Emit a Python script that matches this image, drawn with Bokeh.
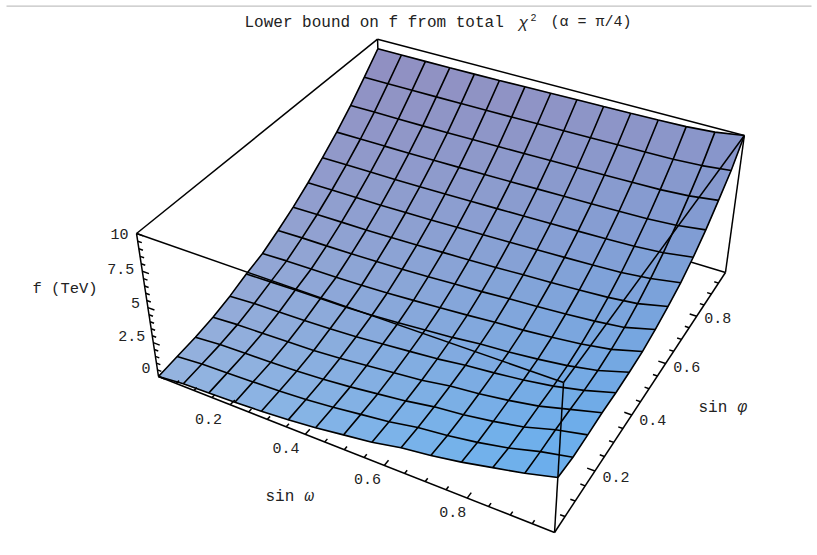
from bokeh.plotting import figure
from bokeh.embed import file_html
from bokeh.resources import INLINE
from bokeh.models import Range1d
from bokeh.core.properties import value
import numpy as np

sin_omega = [0, .0714, .1429, .2143, .2857, .3571, .4286, .5, .5714, .6429, .7143, .7857, .8571, .9286, 1]
sin_phi = [0, .0714, .1429, .2143, .2857, .3571, .4286, .5, .5714, .6429, .7143, .7857, .8571, .9286, 1]
# f (TeV): one row per sin_phi, one column per sin_omega
f_tev = [
 [0.00,0.20,0.27,0.34,0.44,0.59,0.80,1.08,1.36,1.77,2.04,2.40,2.85,3.30,3.86],
 [0.17,0.33,0.40,0.47,0.54,0.68,0.88,1.13,1.38,1.75,1.98,2.30,2.71,3.28,3.72],
 [0.33,0.48,0.54,0.59,0.67,0.80,0.98,1.22,1.47,1.81,2.02,2.33,2.72,3.32,3.77],
 [0.58,0.71,0.76,0.81,0.88,1.01,1.20,1.40,1.59,1.92,2.12,2.41,2.77,3.31,3.85],
 [0.96,1.06,1.10,1.14,1.21,1.32,1.48,1.65,1.82,2.08,2.26,2.49,2.80,3.25,3.84],
 [1.45,1.50,1.54,1.56,1.57,1.65,1.78,1.93,2.09,2.32,2.45,2.65,2.91,3.30,3.91],
 [1.85,1.92,1.94,1.96,2.01,2.09,2.20,2.33,2.46,2.63,2.74,2.92,3.14,3.47,4.03],
 [2.48,2.53,2.54,2.56,2.61,2.67,2.76,2.86,2.96,3.10,3.20,3.34,3.51,3.75,4.30],
 [3.17,3.20,3.22,3.23,3.27,3.32,3.40,3.47,3.55,3.65,3.74,3.85,3.98,4.20,4.67],
 [3.97,3.99,4.00,4.00,4.04,4.07,4.13,4.19,4.25,4.32,4.39,4.47,4.57,4.78,5.13],
 [4.85,4.86,4.87,4.87,4.90,4.93,4.97,5.01,5.06,5.11,5.16,5.22,5.30,5.46,5.76],
 [5.80,5.81,5.81,5.82,5.84,5.86,5.89,5.93,5.97,6.01,6.04,6.09,6.15,6.29,6.56],
 [6.86,6.87,6.87,6.87,6.89,6.91,6.93,6.97,7.00,7.03,7.06,7.10,7.15,7.28,7.54],
 [8.06,8.06,8.06,8.07,8.08,8.09,8.11,8.14,8.16,8.18,8.21,8.24,8.27,8.37,8.58],
 [9.30,9.30,9.30,9.30,9.32,9.34,9.37,9.40,9.43,9.45,9.48,9.52,9.57,9.71,10.0],
]
x_ticks = [.2, .4, .6, .8]
y_ticks = [.2, .4, .6, .8]
z_ticks = [0, 2.5, 5, 7.5, 10]
z_labels = ["0", "2.5", "5", "7.5", "10"]
minor_xy = [.05,.1,.15,.25,.3,.35,.45,.5,.55,.65,.7,.75,.85,.9,.95]
minor_z = [.5,1,1.5,2,3,3.5,4,4.5,5.5,6,6.5,7,8,8.5,9,9.5]

# camera
a, b, c = -0.1163, 0.21, -0.0701
O = np.array([158., 376.]); A = np.array([331.6, 94.1]); B = np.array([303.3, -172.6]); C = np.array([-31.5, -159.3])
def proj(x, y, z):
    w = z / 10
    d = 1 + a*x + b*y + c*w
    P = (O + A*x + B*y + C*w) / d
    return float(P[0]), float(P[1])

p = figure(width=817, height=555, x_range=Range1d(0, 817), y_range=Range1d(555, 0),
           output_backend="svg", toolbar_location=None, min_border=0)
p.axis.visible = False
p.grid.visible = False
p.outline_line_color = None
p.styles = {"position": "absolute", "left": "0px", "top": "0px"}

def seg(P, Q, w=1.5, col="#000000"):
    p.line([P[0], Q[0]], [P[1], Q[1]], line_color=col, line_width=w)

# page rule
p.line([6, 811], [5.7, 5.7], line_color="#c2c2c2", line_width=1.3)

# box edges behind the surface
for e in [((0,1,10),(1,1,10)), ((0,0,10),(0,1,10)), ((1,1,0),(1,1,10)), ((1,1,0),(0,1,0)), ((0,0,0),(0,1,0)), ((0,1,0),(0,1,10))]:
    seg(proj(*e[0]), proj(*e[1]))

# surface
n = len(sin_phi); m = len(sin_omega)
top = np.array([144, 144, 194.])
bl = np.array([150, 188, 230.]); br = np.array([106, 174, 236.])
xs, ys, cols = [], [], []
for j in range(n-2, -1, -1):
    for i in range(m-1):
        q = [proj(sin_omega[i], sin_phi[j], f_tev[j][i]), proj(sin_omega[i+1], sin_phi[j], f_tev[j][i+1]),
             proj(sin_omega[i+1], sin_phi[j+1], f_tev[j+1][i+1]), proj(sin_omega[i], sin_phi[j+1], f_tev[j+1][i])]
        xs.append([t[0] for t in q]); ys.append([t[1] for t in q])
        ux = (sin_omega[i] + sin_omega[i+1]) / 2
        cy = sum(t[1] for t in q) / 4
        t = min(max((cy - 60) / (440 - 60), 0), 1) ** 1.1
        rgb = top * (1 - t) + (bl * (1 - ux) + br * ux) * t
        cols.append("#%02x%02x%02x" % tuple(int(round(v)) for v in rgb))
p.patches(xs, ys, fill_color=cols, line_color=cols, line_width=0.6)

# mesh
mx, my = [], []
for j in range(n):
    pts = [proj(sin_omega[i], sin_phi[j], f_tev[j][i]) for i in range(m)]
    mx.append([t[0] for t in pts]); my.append([t[1] for t in pts])
for i in range(m):
    pts = [proj(sin_omega[i], sin_phi[j], f_tev[j][i]) for j in range(n)]
    mx.append([t[0] for t in pts]); my.append([t[1] for t in pts])
p.multi_line(mx, my, line_color="#000000", line_width=1.6)

# box edges in front of the surface
for e in [((0,0,0),(1,0,0)), ((1,0,0),(1,1,0)), ((0,0,0),(0,0,10)), ((1,0,0),(1,0,10)), ((0,0,10),(1,0,10)), ((1,0,10),(1,1,10))]:
    seg(proj(*e[0]), proj(*e[1]))

# ticks
for v in x_ticks: seg(proj(v,0,0), proj(v,.018,0))
for v in minor_xy: seg(proj(v,0,0), proj(v,.011,0))
for v in y_ticks: seg(proj(1,v,0), proj(1-.018,v,0))
for v in minor_xy: seg(proj(1,v,0), proj(1-.011,v,0))
for v in z_ticks: seg(proj(0,0,v), proj(.018,0,v))
for v in minor_z: seg(proj(0,0,v), proj(.011,0,v))

# texts
mono = value("Liberation Mono")
ink = "#222222"
def tx(x, y, s, size=15, align="center", style="normal", font=mono):
    p.text([x], [y], text=[s], text_font=font, text_font_size=f"{size}px", text_color=ink,
           text_align=align, text_baseline="middle", text_font_style=style)

tx(244, 22, "Lower bound on f from total", 16, "left")
tx(518, 23, "χ", 16, "left", "italic")
tx(530, 17, "2", 10, "left")
tx(550, 22, "(α = π/4)", 15, "left")

for v, s in zip(z_ticks, z_labels):
    P = proj(0, 0, v)
    tx(P[0] - 8, P[1] - 9 + .9 * v, s, 15, "right")
for v in x_ticks:
    P = proj(v, 0, 0)
    tx(P[0] - 24 + 12 * v, P[1] + 14, str(v), 15)
for v in y_ticks:
    P = proj(1, v, 0)
    tx(P[0] + 21, P[1] + 7 - 6 * v, str(v), 15)
tx(32, 288, "f (TeV)", 15.5, "left")
tx(265, 496, "sin", 16, "left")
tx(304, 496, "ω", 16, "left", "italic")
tx(698, 407, "sin", 16, "left")
tx(737, 407, "φ", 16, "left", "italic")

open("out.html", "w").write(file_html(p, INLINE))
